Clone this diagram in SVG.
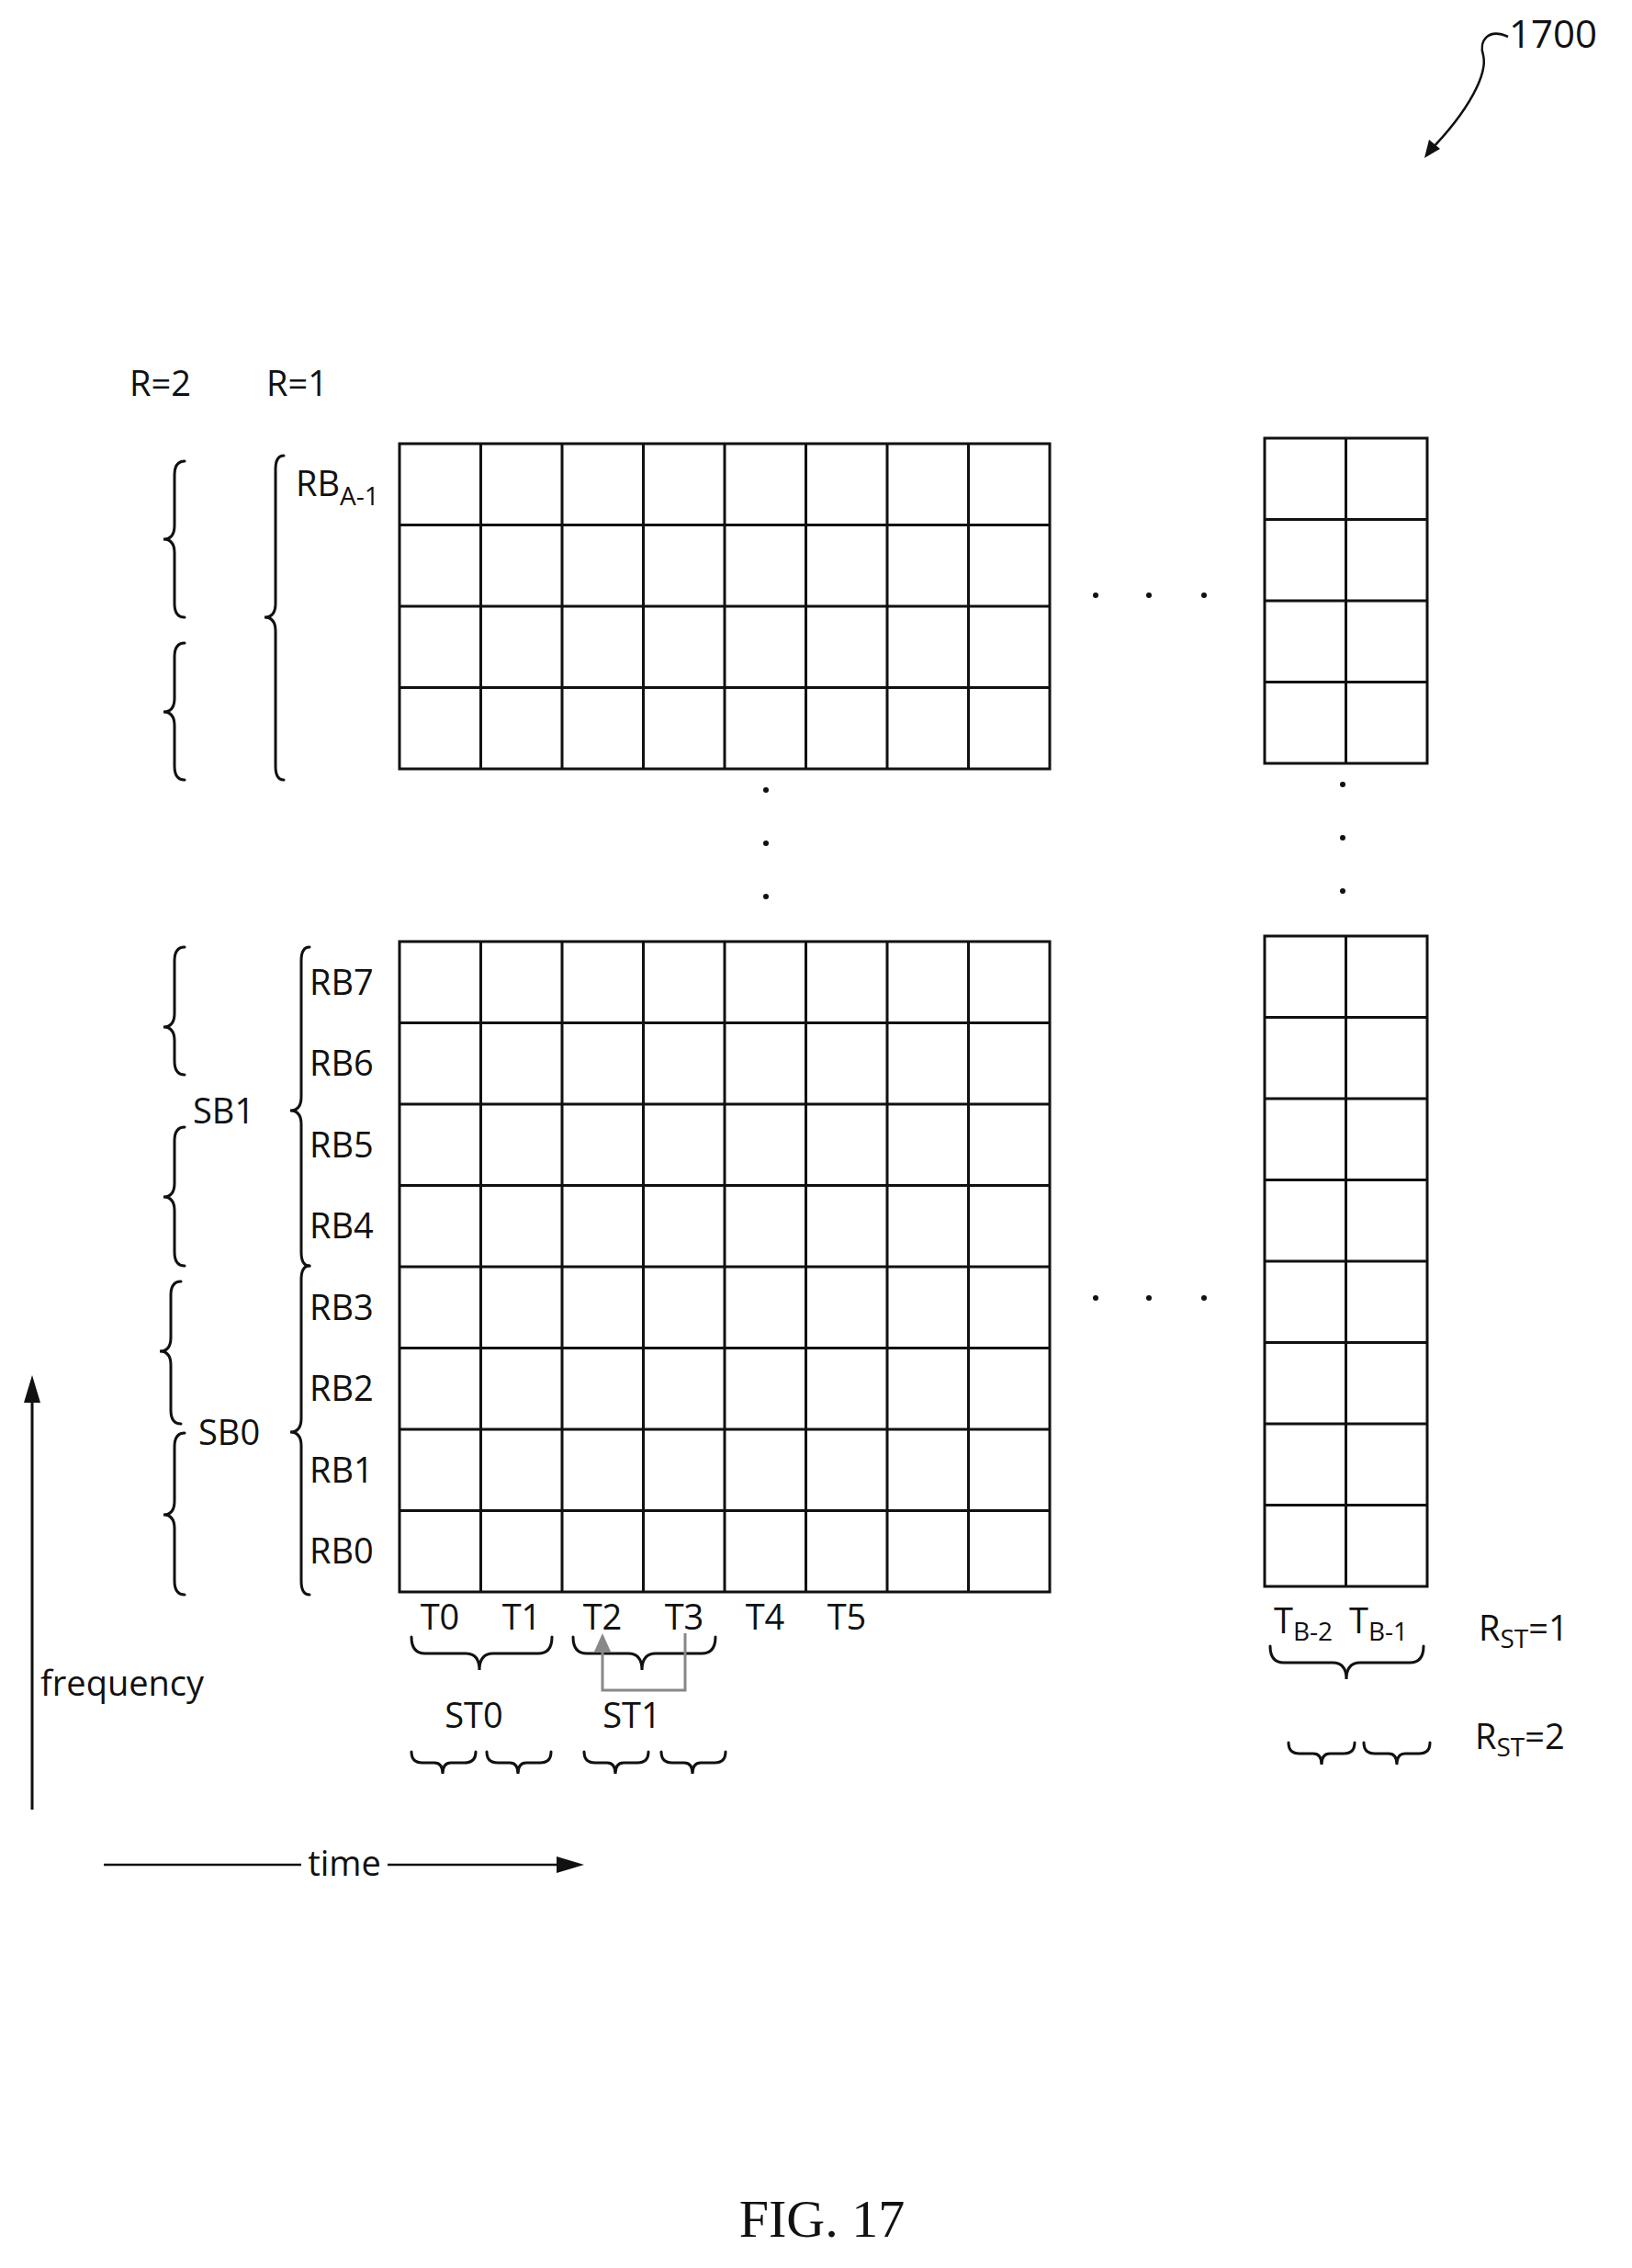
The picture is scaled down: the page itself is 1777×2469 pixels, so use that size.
<svg xmlns="http://www.w3.org/2000/svg" width="1777" height="2469" viewBox="0 0 1777 2469">
<style>
.t{font-family:"Open Sans","DejaVu Sans",sans-serif;font-size:38px;fill:#111}
.g{fill:none;stroke:#111;stroke-width:3}
.br{fill:none;stroke:#111;stroke-width:3;stroke-linecap:round}
.d{fill:#111}
</style>
<g id="label1700">
<text class="t" x="1643" y="52" style="font-size:42px">1700</text>
<path d="M1642 40 C1620 30 1610 45 1615 60 C1620 80 1600 120 1556 165" fill="none" stroke="#111" stroke-width="2.5"/>
<path d="M1551 172 L1556 152 L1568 162 z" fill="#111"/>
</g>
<g id="rlabels"><text class="t" x="141" y="431">R=2</text><text class="t" x="290" y="431">R=1</text></g>
<g id="grid-upper"><path class="g" d="M523.5 483V837M612 483V837M700.5 483V837M789 483V837M877.5 483V837M966 483V837M1054.5 483V837M435 571.5H1143M435 660H1143M435 748.5H1143"/><rect class="g" x="435" y="483" width="708" height="354"/></g>
<g id="grid-upper-right"><rect class="g" x="1377" y="477" width="177" height="354"/><path class="g" d="M1465.5 477V831M1377 565.5H1554M1377 654H1554M1377 742.5H1554"/></g>
<g id="grid-lower"><path class="g" d="M523.5 1025V1733M612 1025V1733M700.5 1025V1733M789 1025V1733M877.5 1025V1733M966 1025V1733M1054.5 1025V1733M435 1113.5H1143M435 1202H1143M435 1290.5H1143M435 1379H1143M435 1467.5H1143M435 1556H1143M435 1644.5H1143"/><rect class="g" x="435" y="1025" width="708" height="708"/></g>
<g id="grid-lower-right"><path class="g" d="M1465.5 1019V1727M1377 1107.5H1554M1377 1196H1554M1377 1284.5H1554M1377 1373H1554M1377 1461.5H1554M1377 1550H1554M1377 1638.5H1554"/><rect class="g" x="1377" y="1019" width="177" height="708"/></g>
<g id="dots">
<circle class="d" cx="1193" cy="648" r="3"/><circle class="d" cx="1251" cy="648" r="3"/><circle class="d" cx="1311" cy="648" r="3"/>
<circle class="d" cx="1193" cy="1413" r="3"/><circle class="d" cx="1251" cy="1413" r="3"/><circle class="d" cx="1311" cy="1413" r="3"/>
<circle class="d" cx="834" cy="860" r="3"/><circle class="d" cx="834" cy="918" r="3"/><circle class="d" cx="834" cy="976" r="3"/>
<circle class="d" cx="1462" cy="854" r="3"/><circle class="d" cx="1462" cy="912" r="3"/><circle class="d" cx="1462" cy="970" r="3"/>
</g>
<g id="rb-labels">
<text class="t" x="322" y="540">RB<tspan dy="10" style="font-size:28px">A-1</tspan></text>
<text class="t" x="337" y="1083">RB7</text><text class="t" x="337" y="1171">RB6</text><text class="t" x="337" y="1260">RB5</text><text class="t" x="337" y="1348">RB4</text>
<text class="t" x="337" y="1437">RB3</text><text class="t" x="337" y="1525">RB2</text><text class="t" x="337" y="1614">RB1</text><text class="t" x="337" y="1702">RB0</text>
<text class="t" x="210" y="1223">SB1</text><text class="t" x="216" y="1573">SB0</text>
</g>
<g id="braces">
<path class="br" d="M309 496q-9 0-9 15V657q0 15-12 15q12 0 12 15V834q0 15 9 15"/>
<path class="br" d="M201 502q-11 0-11 15V572q0 15-12 15q12 0 12 15V657q0 15 11 15"/>
<path class="br" d="M201 700q-11 0-11 15V760q0 15-12 15q12 0 12 15V834q0 15 11 15"/>
<path class="br" d="M337 1031q-9 0-9 15V1194q0 15-12 15q12 0 12 15V1363q0 15 9 15"/>
<path class="br" d="M337 1378q-9 0-9 15V1544q0 15-12 15q12 0 12 15V1721q0 15 9 15"/>
<path class="br" d="M201 1031q-11 0-11 15V1103q0 15-12 15q12 0 12 15V1155q0 15 11 15"/>
<path class="br" d="M201 1227q-11 0-11 15V1288q0 15-12 15q12 0 12 15V1363q0 15 11 15"/>
<path class="br" d="M197 1395q-11 0-11 15V1456q0 15-12 15q12 0 12 15V1535q0 15 11 15"/>
<path class="br" d="M201 1560q-11 0-11 15V1634q0 15-12 15q12 0 12 15V1721q0 15 11 15"/>
<path class="br" d="M448 1782q0 18 15 18H507q15 0 15 18q0-18 15-18H586q15 0 15-18"/>
<path class="br" d="M624 1782q0 18 15 18H684q15 0 15 18q0-18 15-18H764q15 0 15-18"/>
<path class="br" d="M1383 1792q0 18 15 18H1451q15 0 15 18q0-18 15-18H1535q15 0 15-18"/>
<path class="br" d="M448 1907q0 12 12 12H473q9 0 9 12q0-12 9-12H506q12 0 12-12"/>
<path class="br" d="M530 1907q0 12 12 12H555q9 0 9 12q0-12 9-12H588q12 0 12-12"/>
<path class="br" d="M636 1907q0 12 12 12H661q9 0 9 12q0-12 9-12H694q12 0 12-12"/>
<path class="br" d="M720 1907q0 12 12 12H745q9 0 9 12q0-12 9-12H778q12 0 12-12"/>
<path class="br" d="M1403 1897q0 12 12 12H1430q9 0 9 12q0-12 9-12H1463q12 0 12-12"/>
<path class="br" d="M1485 1897q0 12 12 12H1512q9 0 9 12q0-12 9-12H1545q12 0 12-12"/>
</g>
<g id="time-labels">
<text class="t" x="479" y="1774" text-anchor="middle">T0</text><text class="t" x="568" y="1774" text-anchor="middle">T1</text>
<text class="t" x="656" y="1774" text-anchor="middle">T2</text><text class="t" x="745" y="1774" text-anchor="middle">T3</text>
<text class="t" x="833" y="1774" text-anchor="middle">T4</text><text class="t" x="922" y="1774" text-anchor="middle">T5</text>
<text class="t" x="516" y="1881" text-anchor="middle">ST0</text><text class="t" x="688" y="1881" text-anchor="middle">ST1</text>
<text class="t" x="1387" y="1778">T<tspan dy="8" style="font-size:28px">B-2</tspan></text>
<text class="t" x="1469" y="1778">T<tspan dy="8" style="font-size:28px">B-1</tspan></text>
<text class="t" x="1610" y="1786">R<tspan dy="8" style="font-size:28px">ST</tspan><tspan dy="-8">=1</tspan></text>
<text class="t" x="1606" y="1904">R<tspan dy="8" style="font-size:28px">ST</tspan><tspan dy="-8">=2</tspan></text>
</g>
<g id="connectors">
<path d="M746 1778V1840H656V1796" fill="none" stroke="#888" stroke-width="3"/>
<path d="M656 1778L647 1798H665z" fill="#888"/>
<line x1="35" y1="1970" x2="35" y2="1520" stroke="#111" stroke-width="3"/>
<path d="M35 1497L26 1527H44z" fill="#111"/>
<line x1="113" y1="2030" x2="328" y2="2030" stroke="#111" stroke-width="2.5"/>
<line x1="422" y1="2030" x2="615" y2="2030" stroke="#111" stroke-width="2.5"/>
<path d="M636 2030L606 2021V2039z" fill="#111"/>
</g>
<g id="axis-labels">
<text class="t" x="44" y="1846">frequency</text>
<text class="t" x="375" y="2042" text-anchor="middle">time</text>
<text x="895" y="2435" text-anchor="middle" style="font-family:'Liberation Serif',serif;font-size:58px;fill:#111">FIG. 17</text>
</g>
</svg>
